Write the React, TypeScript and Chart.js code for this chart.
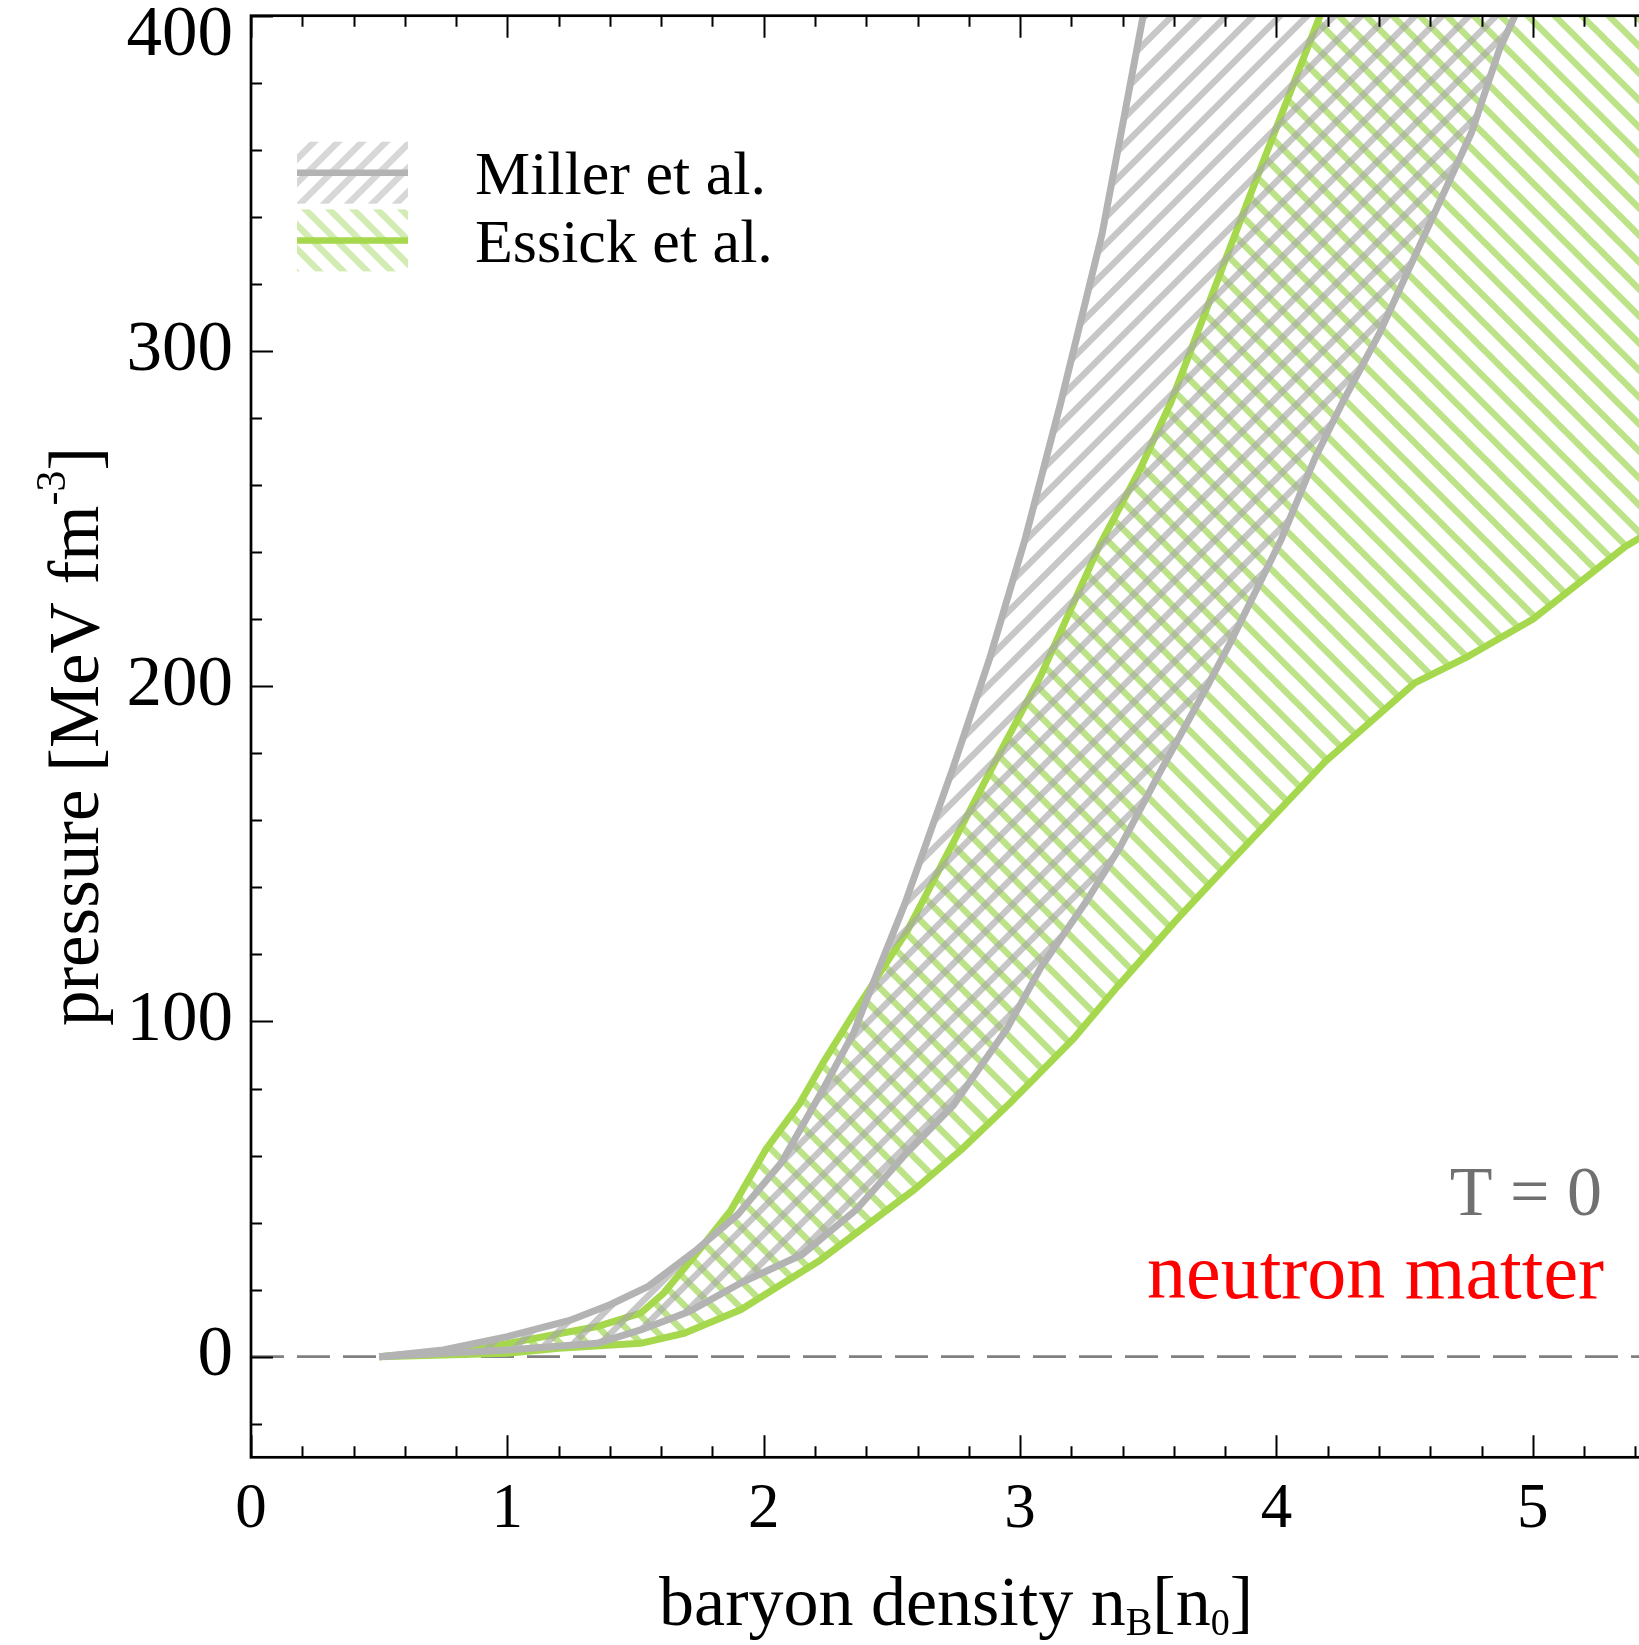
import React, { useEffect, useRef } from 'react';
import { Chart, registerables } from 'chart.js';

Chart.register(...registerables);

const SERIF = "'Liberation Serif', 'Times New Roman', Times, serif";

// ---------------- data ----------------
// Miller et al. band (gray, "/" hatch)
const millerUpperX = [0.5, 0.75, 1.0, 1.25, 1.4, 1.55, 1.74, 1.9, 2.07, 2.24, 2.35, 2.44, 2.55, 2.74, 2.88, 3.02, 3.16, 3.32, 3.48];
const millerUpperY = [0, 2, 6, 11, 15.5, 21, 32, 42.5, 58, 81, 96.5, 114, 135, 176, 208, 244, 285, 335, 400];
const millerLowerX = [0.5, 0.75, 1.0, 1.35, 1.52, 1.71, 1.91, 2.15, 2.36, 2.56, 2.74, 2.95, 3.08, 3.26, 3.39, 3.55, 3.73, 3.82, 4.02, 4.15, 4.26, 4.4, 4.58, 4.76, 4.87, 4.93];
const millerLowerY = [0, 1, 2, 4, 8, 13.5, 22, 30.5, 43.8, 61, 75, 98, 116, 136, 152, 175, 200, 213, 244, 268, 285, 305, 335, 365, 390, 400];
// Essick et al. band (green, "\" hatch)
const essickUpperX = [0.5, 0.9, 1.35, 1.52, 1.61, 1.74, 1.87, 2.01, 2.14, 2.23, 2.36, 2.56, 2.92, 3.08, 3.31, 3.47, 3.59, 3.89, 4.17];
const essickUpperY = [0, 2.5, 9, 13, 19, 31, 43.5, 62, 75.5, 87.5, 103.5, 127, 180, 203, 242, 265, 285, 345, 400];
const essickLowerX = [0.5, 1.0, 1.2, 1.52, 1.69, 1.91, 2.22, 2.59, 2.77, 2.96, 3.21, 3.38, 3.61, 3.85, 4.19, 4.54, 4.75, 5.0, 5.36, 5.5];
const essickLowerY = [0, 1, 2.5, 4, 7, 14, 28.8, 50, 61.7, 75.6, 95, 110.4, 130.3, 150, 177.5, 201, 209, 220, 241.6, 248];
// zero reference line
const zeroLineX = [0, 5.5];
const zeroLineY = [0, 0];

const seriesLabels = ['Miller et al.', 'Essick et al.'];
const xTickValues = [0, 1, 2, 3, 4, 5];
const yTickValues = [0, 100, 200, 300, 400];
const xRange = [0, 5.5];
const yRange = [-30, 400];
const xMinorStep = 0.2;
const yMinorStep = 20;
const annotationT = 'T = 0';
const annotationMatter = 'neutron matter';

// ---------------- styles ----------------
const GRAY_LINE = '#b3b3b3';
const GREEN_LINE = '#a6d84e';
const GRAY_HATCH = 'rgba(168,168,168,0.64)';
const GREEN_HATCH = '#bde389';
const GRAY_HATCH_LEGEND = '#d7d7d7';
const GREEN_HATCH_LEGEND = '#d3ecb3';
const W = 1665;
const H = 1645;

const toPts = (xs: number[], ys: number[]) => xs.map((x, i) => ({ x, y: ys[i] }));

function makeHatch(color: string, dir: 'up' | 'down', s: number, lw: number) {
  const c = document.createElement('canvas');
  c.width = s;
  c.height = s;
  const g = c.getContext('2d') as CanvasRenderingContext2D;
  g.strokeStyle = color;
  g.lineWidth = lw;
  g.beginPath();
  for (let k = -2; k <= 2; k++) {
    if (dir === 'up') {
      g.moveTo(k * s - s, 2 * s);
      g.lineTo((k + 1) * s + s, -s);
    } else {
      g.moveTo(k * s - s, -s);
      g.lineTo((k + 1) * s + s, 2 * s);
    }
  }
  g.stroke();
  return g.createPattern(c, 'repeat') as CanvasPattern;
}

function drawSegments(ctx: CanvasRenderingContext2D, segs: { t: string; s: number; dy?: number }[], cx: number, baseline: number) {
  let total = 0;
  const widths = segs.map((sg) => {
    ctx.font = `${sg.s}px ${SERIF}`;
    const w = ctx.measureText(sg.t).width;
    total += w;
    return w;
  });
  let x = cx - total / 2;
  ctx.textAlign = 'left';
  ctx.textBaseline = 'alphabetic';
  segs.forEach((sg, i) => {
    ctx.font = `${sg.s}px ${SERIF}`;
    ctx.fillText(sg.t, x, baseline + (sg.dy || 0));
    x += widths[i];
  });
}

export default function App() {
  const ref = useRef<HTMLCanvasElement | null>(null);

  useEffect(() => {
    const canvas = ref.current;
    if (!canvas) return;

    const grayPat = makeHatch(GRAY_HATCH, 'up', 27, 6.5);
    const greenPat = makeHatch(GREEN_HATCH, 'down', 27, 6.5);
    const grayLegPat = makeHatch(GRAY_HATCH_LEGEND, 'up', 24, 6.5);
    const greenLegPat = makeHatch(GREEN_HATCH_LEGEND, 'down', 24, 6.5);

    const bandPlugin = {
      id: 'hatchBands',
      beforeDatasetsDraw(chart: any) {
        chart.$drawnBands = new Set();
      },
      beforeDatasetDraw(chart: any, args: any) {
        const ds: any = chart.data.datasets[args.index];
        if (!ds.band) return;
        const done: Set<string> = chart.$drawnBands;
        if (done.has(ds.band)) return;
        done.add(ds.band);
        const upper: any = chart.data.datasets.find((d: any) => d.band === ds.band && d.edge === 'upper');
        const lower: any = chart.data.datasets.find((d: any) => d.band === ds.band && d.edge === 'lower');
        const xs = chart.scales.x;
        const ys = chart.scales.y;
        const ctx: CanvasRenderingContext2D = chart.ctx;
        const a = chart.chartArea;
        ctx.save();
        ctx.beginPath();
        ctx.rect(a.left, a.top, a.right - a.left, a.bottom - a.top);
        ctx.clip();
        ctx.beginPath();
        upper.data.forEach((p: any, i: number) => {
          const X = xs.getPixelForValue(p.x);
          const Y = ys.getPixelForValue(p.y);
          if (i === 0) ctx.moveTo(X, Y);
          else ctx.lineTo(X, Y);
        });
        const last = lower.data[lower.data.length - 1];
        ctx.lineTo(xs.getPixelForValue(last.x), ys.getPixelForValue(ys.max));
        for (let i = lower.data.length - 1; i >= 0; i--) {
          const p = lower.data[i];
          ctx.lineTo(xs.getPixelForValue(p.x), ys.getPixelForValue(p.y));
        }
        ctx.closePath();
        ctx.fillStyle = ds.band === 'miller' ? grayPat : greenPat;
        ctx.fill();
        ctx.restore();
      },
    };

    const framePlugin = {
      id: 'frame',
      afterDatasetsDraw(chart: any) {
        const ctx: CanvasRenderingContext2D = chart.ctx;
        const a = chart.chartArea;
        const xs = chart.scales.x;
        const ys = chart.scales.y;
        ctx.save();
        ctx.strokeStyle = '#000';
        ctx.lineWidth = 2;
        ctx.lineCap = 'butt';
        ctx.beginPath();
        const nx = Math.round((xs.max - xs.min) / xMinorStep);
        for (let i = 0; i <= nx; i++) {
          const v = xs.min + i * xMinorStep;
          const major = Math.abs(v - Math.round(v)) < 1e-6;
          const len = major ? 22 : 11;
          const X = Math.round(xs.getPixelForValue(v)) + 0.5;
          ctx.moveTo(X, a.bottom);
          ctx.lineTo(X, a.bottom - len);
          ctx.moveTo(X, a.top);
          ctx.lineTo(X, a.top + len);
        }
        for (let v = Math.ceil(ys.min / yMinorStep) * yMinorStep; v <= ys.max; v += yMinorStep) {
          const major = v % 100 === 0;
          const len = major ? 22 : 11;
          const Y = Math.round(ys.getPixelForValue(v)) + 0.5;
          ctx.moveTo(a.left, Y);
          ctx.lineTo(a.left + len, Y);
          ctx.moveTo(a.right, Y);
          ctx.lineTo(a.right - len, Y);
        }
        ctx.stroke();
        ctx.lineWidth = 2.7;
        ctx.strokeRect(a.left, a.top, a.right - a.left, a.bottom - a.top);

        // y tick labels (kept inside the canvas at the top)
        ctx.fillStyle = '#000';
        ctx.font = `71px ${SERIF}`;
        ctx.textAlign = 'right';
        ctx.textBaseline = 'middle';
        yTickValues.forEach((v) => {
          const Y = Math.max(ys.getPixelForValue(v), a.top + 21);
          ctx.fillText(String(v), a.left - 18, Y);
        });
        ctx.restore();
      },
    };

    const textPlugin = {
      id: 'texts',
      afterDraw(chart: any) {
        const ctx: CanvasRenderingContext2D = chart.ctx;
        const a = chart.chartArea;
        ctx.save();
        // legend
        const rows = [
          { label: seriesLabels[0], pat: grayLegPat, line: GRAY_LINE },
          { label: seriesLabels[1], pat: greenLegPat, line: GREEN_LINE },
        ];
        rows.forEach((r, i) => {
          const baseline = 194 + i * 67.7;
          const top = baseline - 52.3;
          ctx.fillStyle = r.pat;
          ctx.fillRect(297, top, 111, 62);
          ctx.strokeStyle = r.line;
          ctx.lineWidth = 6.5;
          ctx.beginPath();
          ctx.moveTo(297, top + 31);
          ctx.lineTo(408, top + 31);
          ctx.stroke();
          ctx.fillStyle = '#000';
          ctx.font = `62px ${SERIF}`;
          ctx.textAlign = 'left';
          ctx.textBaseline = 'alphabetic';
          ctx.fillText(r.label, 475, baseline);
        });
        // annotations
        ctx.textAlign = 'right';
        ctx.fillStyle = '#707070';
        ctx.font = `70px ${SERIF}`;
        ctx.fillText(annotationT, 1602, 1215);
        ctx.fillStyle = '#ff0000';
        ctx.font = `78px ${SERIF}`;
        ctx.fillText(annotationMatter, 1604, 1298);
        // axis titles
        ctx.fillStyle = '#000';
        drawSegments(
          ctx,
          [
            { t: 'baryon density n', s: 70 },
            { t: 'B', s: 40, dy: 10 },
            { t: '[n', s: 70 },
            { t: '0', s: 38, dy: 10 },
            { t: ']', s: 70 },
          ],
          (a.left + a.right) / 2,
          1625
        );
        ctx.save();
        ctx.translate(97.5, (a.top + a.bottom) / 2);
        ctx.rotate(-Math.PI / 2);
        drawSegments(
          ctx,
          [
            { t: 'pressure [MeV fm', s: 71 },
            { t: '-3', s: 42, dy: -33 },
            { t: ']', s: 71 },
          ],
          0,
          0
        );
        ctx.restore();
        ctx.restore();
      },
    };

    const lineBase = {
      borderWidth: 7,
      pointRadius: 0,
      pointHoverRadius: 0,
      tension: 0,
      fill: false,
      clip: 0,
      borderJoinStyle: 'round',
      borderCapStyle: 'butt',
    };

    const chart = new Chart(canvas, {
      type: 'line',
      data: {
        datasets: [
          { ...lineBase, label: seriesLabels[0] + ' upper', data: toPts(millerUpperX, millerUpperY), borderColor: GRAY_LINE, order: 1, band: 'miller', edge: 'upper' } as any,
          { ...lineBase, label: seriesLabels[0] + ' lower', data: toPts(millerLowerX, millerLowerY), borderColor: GRAY_LINE, order: 1, band: 'miller', edge: 'lower' } as any,
          { ...lineBase, label: seriesLabels[1] + ' upper', data: toPts(essickUpperX, essickUpperY), borderColor: GREEN_LINE, order: 2, band: 'essick', edge: 'upper' } as any,
          { ...lineBase, label: seriesLabels[1] + ' lower', data: toPts(essickLowerX, essickLowerY), borderColor: GREEN_LINE, order: 2, band: 'essick', edge: 'lower' } as any,
          { ...lineBase, label: 'zero', data: toPts(zeroLineX, zeroLineY), borderColor: '#808080', borderWidth: 2.7, borderDash: [33, 13], order: 3 } as any,
        ],
      },
      options: {
        responsive: false,
        animation: false,
        devicePixelRatio: 1,
        events: [],
        layout: { padding: { left: 0, right: 4, top: 15.7, bottom: 0 } },
        plugins: { legend: { display: false }, tooltip: { enabled: false } },
        scales: {
          x: {
            type: 'linear',
            position: 'bottom',
            min: xRange[0],
            max: xRange[1],
            grid: { display: false, drawTicks: false },
            border: { display: false },
            ticks: {
              font: { family: SERIF, size: 63 },
              color: '#000',
              padding: 15,
              maxRotation: 0,
              autoSkip: false,
              callback: (v: any) => String(v),
            },
            afterBuildTicks: (s: any) => {
              s.ticks = xTickValues.map((v) => ({ value: v }));
            },
            afterFit: (s: any) => {
              s.height = 187.7;
              s.paddingLeft = 0;
              s.paddingRight = 0;
            },
          },
          y: {
            type: 'linear',
            min: yRange[0],
            max: yRange[1],
            grid: { display: false, drawTicks: false },
            border: { display: false },
            ticks: { display: false },
            afterBuildTicks: (s: any) => {
              s.ticks = yTickValues.map((v) => ({ value: v }));
            },
            afterFit: (s: any) => {
              s.width = 251;
              s.paddingTop = 0;
              s.paddingBottom = 0;
            },
          },
        },
      } as any,
      plugins: [bandPlugin, framePlugin, textPlugin],
    });

    return () => chart.destroy();
  }, []);

  return (
    <div style={{ position: 'absolute', left: 0, top: 0, width: 1639, height: 1645, overflow: 'hidden', background: '#fff' }}>
      <canvas ref={ref} width={W} height={H} style={{ display: 'block' }} />
    </div>
  );
}
